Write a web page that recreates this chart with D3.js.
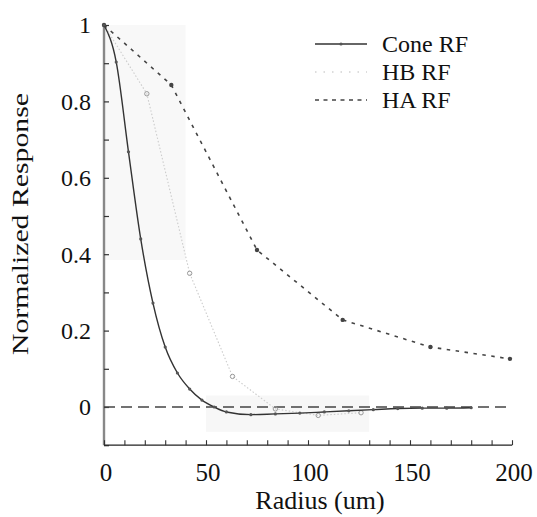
<!DOCTYPE html>
<html><head><meta charset="utf-8">
<script src="https://cdn.jsdelivr.net/npm/d3@7"></script>
<style>html,body{margin:0;padding:0;background:#fff}svg{display:block}text{font-family:"Liberation Serif","Times New Roman",serif}</style>
</head><body>
<svg id="c" width="537" height="517"></svg>
<script>
const coneR = [0,6,12,18,24,30,36,42,48,54,60,72,84,96,108,120,132,144,156,168,180];
const coneV = [1,0.903,0.668,0.44,0.272,0.157,0.089,0.047,0.018,0,-0.013,-0.02,-0.018,-0.016,-0.013,-0.01,-0.007,-0.004,-0.003,-0.003,-0.002];
const hbR = [0,21,42,63,84,105,126];
const hbV = [1,0.82,0.35,0.08,-0.005,-0.022,-0.015];
const haR = [0,33,75,117,160,199];
const haV = [1,0.843,0.411,0.228,0.157,0.126];
const xTicks = [0,50,100,150,200];
const yTicks = [0,0.2,0.4,0.6,0.8,1];
const legendNames = ["Cone RF","HB RF","HA RF"];

const svg = d3.select("#c");
const x = d3.scaleLinear().domain([0,200]).range([104,512]);
const y = d3.scaleLinear().domain([0,1]).range([407,25]);

// faint scan shading
svg.append("rect").attr("x",x(0)).attr("y",y(1)).attr("width",x(40)-x(0)).attr("height",y(0.385)-y(1)).attr("fill","#f8f8f8");
svg.append("rect").attr("x",x(50)).attr("y",y(0.03)).attr("width",x(130)-x(50)).attr("height",y(-0.065)-y(0.03)).attr("fill","#f7f7f7");

// axes
const yAxis = d3.axisRight(y).tickValues(d3.range(-0.1,1.01,0.1)).tickSize(5).tickFormat("");
const gy = svg.append("g").attr("transform",`translate(${x(0)},0)`).call(yAxis);
gy.select(".domain").attr("stroke","#888").attr("stroke-width",2.4).attr("d",`M0,${y(-0.1)}V${y(1)}`);
gy.selectAll(".tick line").attr("stroke","#333").attr("stroke-width",1.2);

const xAxis = d3.axisTop(x).tickValues(d3.range(0,201,10)).tickSize(5).tickFormat("");
const gx = svg.append("g").attr("transform",`translate(0,${y(-0.1)})`).call(xAxis);
gx.select(".domain").attr("stroke","#222").attr("stroke-width",1.3).attr("d",`M${x(0)},0H${x(200)}`);
gx.selectAll(".tick line").attr("stroke","#333").attr("stroke-width",1.1);

// tick labels
svg.selectAll(".xl").data(xTicks).enter().append("text")
  .attr("x",d=>x(d)+2).attr("y",481).attr("text-anchor","middle")
  .attr("font-size",25).attr("fill","#111").text(d=>d);
svg.selectAll(".yl").data(yTicks).enter().append("text")
  .attr("x",91).attr("y",d=>y(d)).attr("dy","0.35em").attr("text-anchor","end")
  .attr("font-size",24).attr("fill","#111").text(d=>d);

// axis titles
svg.append("text").attr("x",320).attr("y",509).attr("text-anchor","middle")
  .attr("font-size",26).attr("fill","#111").text("Radius (um)");
svg.append("text").attr("transform","translate(28,224) rotate(-90)").attr("text-anchor","middle")
  .attr("font-size",24).attr("fill","#111")
  .attr("textLength",262).attr("lengthAdjust","spacingAndGlyphs").text("Normalized Response");

// zero line
svg.append("line").attr("x1",x(0)).attr("x2",x(200)).attr("y1",y(0)).attr("y2",y(0))
  .attr("stroke","#444").attr("stroke-width",1.3).attr("stroke-dasharray","11,6");

const line = d3.line().x(d=>x(d[0])).y(d=>y(d[1]));
const hb = hbR.map((r,i)=>[r,hbV[i]]);
const ha = haR.map((r,i)=>[r,haV[i]]);
const cone = coneR.map((r,i)=>[r,coneV[i]]);

svg.append("path").datum(hb).attr("d",line).attr("fill","none")
  .attr("stroke","#ccc").attr("stroke-width",1.1).attr("stroke-dasharray","1.5,2");
svg.selectAll(".hbm").data(hb.slice(1)).enter().append("circle")
  .attr("cx",d=>x(d[0])).attr("cy",d=>y(d[1])).attr("r",2.2)
  .attr("fill","none").attr("stroke","#999").attr("stroke-width",1);

svg.append("path").datum(ha).attr("d",line).attr("fill","none")
  .attr("stroke","#444").attr("stroke-width",1.6).attr("stroke-dasharray","3.5,5.5");
svg.selectAll(".ham").data(ha).enter().append("circle")
  .attr("cx",d=>x(d[0])).attr("cy",d=>y(d[1])).attr("r",2.2).attr("fill","#444");

svg.append("path").datum(cone).attr("d",line.curve(d3.curveMonotoneX)).attr("fill","none")
  .attr("stroke","#333").attr("stroke-width",1.4);
svg.selectAll(".cm").data(cone).enter().append("circle")
  .attr("cx",d=>x(d[0])).attr("cy",d=>y(d[1])).attr("r",1.6).attr("fill","#555");

// legend
const lg = svg.append("g");
const ly = [44,72,100];
lg.append("line").attr("x1",315).attr("x2",367).attr("y1",ly[0]).attr("y2",ly[0]).attr("stroke","#333").attr("stroke-width",1.4);
lg.append("circle").attr("cx",341).attr("cy",ly[0]).attr("r",1.6).attr("fill","#555");
lg.append("line").attr("x1",315).attr("x2",367).attr("y1",ly[1]).attr("y2",ly[1]).attr("stroke","#bbb").attr("stroke-width",1.2).attr("stroke-dasharray","1.5,7");
lg.append("line").attr("x1",315).attr("x2",367).attr("y1",ly[2]).attr("y2",ly[2]).attr("stroke","#444").attr("stroke-width",1.4).attr("stroke-dasharray","4,4.5");
lg.selectAll(".lt").data(legendNames).enter().append("text")
  .attr("x",382).attr("y",(d,i)=>ly[i]).attr("dy","0.35em")
  .attr("font-size",24).attr("fill","#111").text(d=>d);
</script>
</body></html>
